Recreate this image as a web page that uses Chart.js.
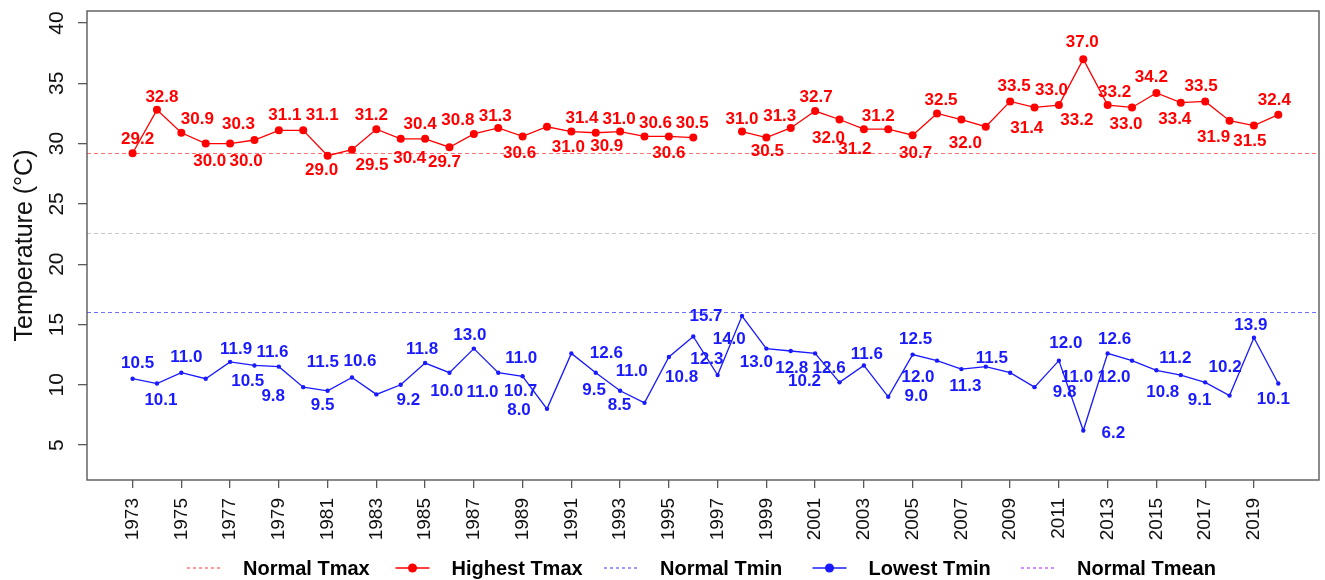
<!DOCTYPE html>
<html>
<head>
<meta charset="utf-8">
<script src="https://cdn.jsdelivr.net/npm/chart.js@4.4.1/dist/chart.umd.min.js"></script>
<style>
html,body{margin:0;padding:0;background:#ffffff;}
#wrap{width:1325px;height:580px;position:relative;}
</style>
</head>
<body>
<div id="wrap"><canvas id="c" width="1325" height="580"></canvas></div>
<script>
// ---------------- DATA ----------------
const years = [1973,1974,1975,1976,1977,1978,1979,1980,1981,1982,1983,1984,1985,1986,1987,1988,1989,1990,1991,1992,1993,1994,1995,1996,1997,1998,1999,2000,2001,2002,2003,2004,2005,2006,2007,2008,2009,2010,2011,2012,2013,2014,2015,2016,2017,2018,2019,2020];
const highestTmax = [29.2,32.8,30.9,30.0,30.0,30.3,31.1,31.1,29.0,29.5,31.2,30.4,30.4,29.7,30.8,31.3,30.6,31.4,31.0,30.9,31.0,30.6,30.6,30.5,null,31.0,30.5,31.3,32.7,32.0,31.2,31.2,30.7,32.5,32.0,31.4,33.5,33.0,33.2,37.0,33.2,33.0,34.2,33.4,33.5,31.9,31.5,32.4];
const lowestTmin = [10.5,10.1,11.0,10.5,11.9,11.6,11.5,9.8,9.5,10.6,9.2,10.0,11.8,11.0,13.0,11.0,10.7,8.0,12.6,11.0,9.5,8.5,12.3,14.0,10.8,15.7,13.0,12.8,12.6,10.2,11.6,9.0,12.5,12.0,11.3,11.5,11.0,9.8,12.0,6.2,12.6,12.0,11.2,10.8,10.2,9.1,13.9,10.1];
const normalTmax = 29.2;
const normalTmin = 16.0;
const normalTmean = 22.6;
const xTickYears = [1973,1975,1977,1979,1981,1983,1985,1987,1989,1991,1993,1995,1997,1999,2001,2003,2005,2007,2009,2011,2013,2015,2017,2019];
const yTickValues = [5,10,15,20,25,30,35,40];
const legendLabels = ['Normal Tmax','Highest Tmax','Normal Tmin','Lowest Tmin','Normal Tmean'];
const yAxisTitle = 'Temperature (\u00B0C)';

// label nudges (pixel offsets of each value label from its point)
const tmaxLabelNudge = [[5,-14],[5,-13],[16,-13],[4,18],[16,18],[-16,-16],[6,-15],[19,-15],[-6,15],[20,16],[-5,-14],[9,20],[-5,-14],[-5,15],[-16,-14],[-3,-12],[-3,17],[35,-8],[-3,16],[11,14],[-1,-12],[11,-13],[0,17],[-1,-14],null,[0,-12],[1,14],[-11,-12],[1,-14],[-11,19],[-9,20],[-10,-13],[3,18],[4,-13],[4,24],[41,2],[4,-15],[17,-17],[18,15],[-1,-17],[7,-13],[-6,17],[-5,-16],[-6,17],[-4,-15],[-16,17],[-4,16],[-4,-14]];
const tminLabelNudge = [[5,-15],[4,17],[5,-15],[42,3],[6,-13],[18,-13],[44,-4],[-30,9],[-5,15],[8,-16],[32,6],[46,7],[-3,-14],[33,20],[-4,-13],[23,-14],[-2,15],[-28,1],[35,0],[36,-1],[-26,0],[-25,2],[38,2],[36,3],[-36,2],[-36,0],[-10,14],[1,17],[14,15],[-35,-1],[3,-11],[28,0],[3,-15],[-19,17],[4,17],[6,-8],[67,5],[30,5],[7,-17],[30,3],[7,-14],[-18,17],[19,-12],[-18,17],[20,-15],[-30,5],[-3,-12],[-5,16]];

// ---------------- STYLE ----------------
const FONT = '"Liberation Sans", Arial, Helvetica, sans-serif';
const RED = '#ff0000', BLUE = '#1a1aff';
const RED_LIGHT = '#ff7070', BLUE_LIGHT = '#7070ff', GRAY_LIGHT = '#c8c8c8', PURPLE_LIGHT = '#c060ff';
const AXIS_GRAY = '#595959';

const refLinesPlugin = {
  id: 'refLines',
  beforeDatasetsDraw(chart) {
    const {ctx, chartArea: a, scales: {y}} = chart;
    ctx.save();
    ctx.lineWidth = 1.2;
    ctx.setLineDash([4, 3]);
    [[normalTmax, RED_LIGHT], [normalTmean, GRAY_LIGHT], [normalTmin, BLUE_LIGHT]].forEach(([v, col]) => {
      const py = Math.round(y.getPixelForValue(v)) + 0.5;
      ctx.strokeStyle = col;
      ctx.beginPath(); ctx.moveTo(a.left, py); ctx.lineTo(a.right, py); ctx.stroke();
    });
    ctx.restore();
  },
  afterDraw(chart) {
    const {ctx, chartArea: a, scales: {y}} = chart;
    ctx.save();
    // box
    ctx.strokeStyle = AXIS_GRAY; ctx.lineWidth = 1.4; ctx.setLineDash([]);
    ctx.strokeRect(a.left, a.top, a.right - a.left, a.bottom - a.top);
    // y tick labels (rotated)
    ctx.fillStyle = '#111';
    ctx.font = '21px ' + FONT;
    ctx.textAlign = 'center'; ctx.textBaseline = 'middle';
    yTickValues.forEach(v => {
      const py = y.getPixelForValue(v);
      ctx.save(); ctx.translate(57, py); ctx.rotate(-Math.PI / 2); ctx.fillText(String(v), 0, 0); ctx.restore();
    });
    // y title
    ctx.font = '25px ' + FONT;
    ctx.save(); ctx.translate(25, (a.top + a.bottom) / 2); ctx.rotate(-Math.PI / 2); ctx.fillText(yAxisTitle, 0, 0); ctx.restore();
    // legend
    const legY = 568;
    const startX = 243, step = 208.5;
    ctx.font = 'bold 20px ' + FONT;
    ctx.textAlign = 'left'; ctx.textBaseline = 'middle';
    const symbols = [
      {col: RED_LIGHT, dash: true}, {col: RED, dash: false, dot: 4.5},
      {col: BLUE_LIGHT, dash: true}, {col: BLUE, dash: false, dot: 4.5},
      {col: PURPLE_LIGHT, dash: true}
    ];
    legendLabels.forEach((lab, i) => {
      const tx = startX + i * step;
      const s = symbols[i];
      const x0 = tx - 56, x1 = tx - 22;
      ctx.strokeStyle = s.col; ctx.lineWidth = 1.4;
      ctx.setLineDash(s.dash ? [3, 3] : []);
      ctx.beginPath(); ctx.moveTo(x0, legY); ctx.lineTo(x1, legY); ctx.stroke();
      ctx.setLineDash([]);
      if (s.dot) { ctx.fillStyle = s.col; ctx.beginPath(); ctx.arc((x0 + x1) / 2, legY, s.dot, 0, Math.PI * 2); ctx.fill(); }
      ctx.fillStyle = '#000';
      ctx.fillText(lab, tx, legY + 1);
    });
    ctx.restore();
  }
};

const valueLabelsPlugin = {
  id: 'valueLabels',
  afterDatasetsDraw(chart) {
    const ctx = chart.ctx;
    const specs = [
      {ds: 0, values: highestTmax, nudge: tmaxLabelNudge, color: RED},
      {ds: 1, values: lowestTmin, nudge: tminLabelNudge, color: BLUE}
    ];
    ctx.save();
    ctx.font = 'bold 17px ' + FONT;
    ctx.textAlign = 'center'; ctx.textBaseline = 'middle';
    specs.forEach(s => {
      const meta = chart.getDatasetMeta(s.ds);
      meta.data.forEach((pt, i) => {
        const v = s.values[i];
        if (v === null || v === undefined || !isFinite(pt.x) || !isFinite(pt.y)) return;
        const n = s.nudge[i] || [0, -14];
        ctx.fillStyle = s.color;
        ctx.fillText(v.toFixed(1), pt.x + n[0], pt.y + n[1]);
      });
    });
    ctx.restore();
  }
};

new Chart(document.getElementById('c'), {
  type: 'line',
  data: {
    datasets: [
      {
        label: 'Highest Tmax',
        data: years.map((yr, i) => ({x: yr, y: highestTmax[i]})),
        borderColor: RED, backgroundColor: RED,
        borderWidth: 1.3, pointRadius: 4, pointBorderWidth: 0,
        spanGaps: false, tension: 0
      },
      {
        label: 'Lowest Tmin',
        data: years.map((yr, i) => ({x: yr, y: lowestTmin[i]})),
        borderColor: BLUE, backgroundColor: BLUE,
        borderWidth: 1.3, pointRadius: 2.2, pointBorderWidth: 0,
        spanGaps: false, tension: 0
      }
    ]
  },
  options: {
    responsive: false,
    animation: false,
    devicePixelRatio: 1,
    layout: {padding: {left: 0, top: 11, right: 6, bottom: 0}},
    plugins: {legend: {display: false}, tooltip: {enabled: false}, title: {display: false}},
    scales: {
      x: {
        type: 'linear',
        min: 1971.13, max: 2021.67,
        afterBuildTicks: s => { s.ticks = xTickYears.map(v => ({value: v})); },
        afterFit: s => { s.height = 100; },
        ticks: {
          autoSkip: false, minRotation: 90, maxRotation: 90, padding: 10,
          color: '#111', font: {family: FONT, size: 19},
          callback: v => String(v)
        },
        grid: {display: true, drawOnChartArea: false, drawTicks: true, tickLength: 8, color: AXIS_GRAY, lineWidth: 1.3},
        border: {display: false}
      },
      y: {
        type: 'linear',
        min: 2.1, max: 41.0,
        afterBuildTicks: s => { s.ticks = yTickValues.map(v => ({value: v})); },
        afterFit: s => { s.width = 87; },
        ticks: {display: false},
        grid: {display: true, drawOnChartArea: false, drawTicks: true, tickLength: 9, color: AXIS_GRAY, lineWidth: 1.3},
        border: {display: false}
      }
    }
  },
  plugins: [refLinesPlugin, valueLabelsPlugin]
});
</script>
</body>
</html>
